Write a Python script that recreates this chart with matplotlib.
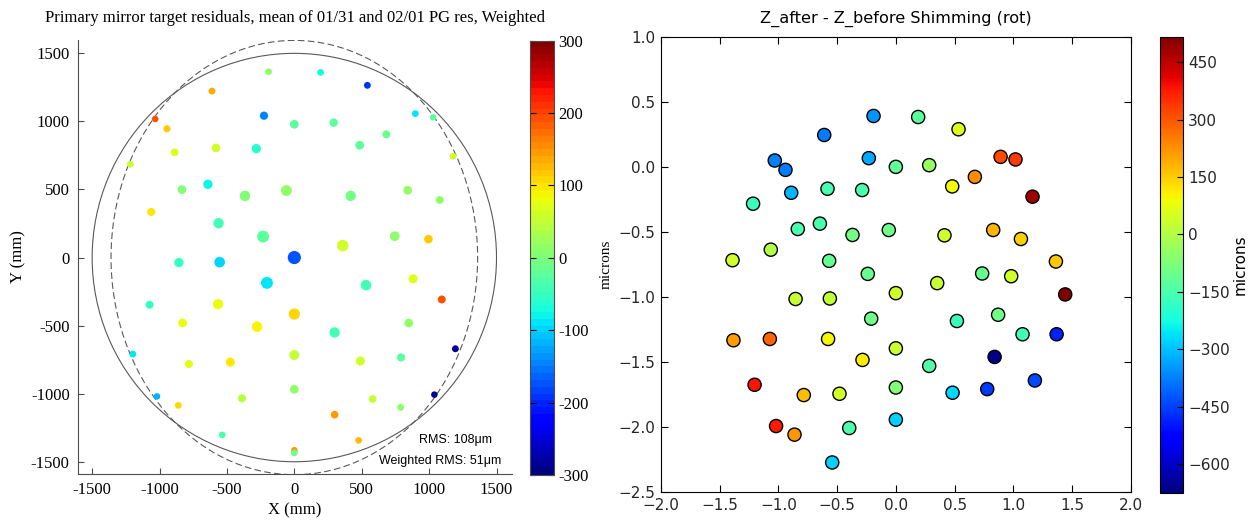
import numpy as np
import matplotlib
matplotlib.use('Agg')
import matplotlib.pyplot as plt
from matplotlib.patches import Ellipse, Circle

# ---- left panel: mirror target residuals (mm, microns) ----
left_x = [-191, -611, -1032, -945, -225, 0, -888, -581, -282, -1217, -834, -641, -366, -59,
          -1062, -562, -232, 0, -856, -554, 195, 542, 898, 1030, 292, 683, 485, 1178, 418, 841,
          1079, 359, 745, 995, -203, -1074, -566, 0, -829, -277, -1198, -782, -475, 0, 0,
          -1019, -861, -388, -535, 0, 0, 532, 881, 1094, 299, 849, 1195, 490, 792, 581, 789,
          1039, 299, 477]
left_y = [1365, 1223, 1018, 946, 1042, 979, 773, 805, 800, 685, 499, 538, 453, 492,
          335, 252, 154, 0, -37, -34, 1360, 1265, 1057, 1030, 991, 905, 825, 744, 453, 494,
          423, 88, 157, 135, -186, -347, -342, -415, -481, -508, -709, -782, -768, -716, -968,
          -1020, -1086, -1034, -1303, -1416, -1435, -203, -156, -308, -550, -481, -670, -760, -734, -1039, -1100,
          -1007, -1154, -1343]
left_res = [10, 140, 190, 115, -145, -25, 70, 65, -60, 55, 0, -80, 0, 15,
            100, -45, -25, -170, -50, -100, -70, -190, -90, -25, -25, -15, -25, 60, -5, 15,
            15, 65, 15, 115, -90, -55, 80, 105, 75, 85, -90, 70, 95, 50, 15,
            -120, 105, 40, -35, 145, -10, -45, 70, 190, -45, 15, -285, 65, -25, 55, 15,
            -285, 145, 130]
rms_text = ['RMS: 108\u03bcm', 'Weighted RMS: 51\u03bcm']

# ---- right panel: Z_after - Z_before ----
right_x = [-1.391, -1.065, -1.216, -1.031, -0.940, -0.891, -0.835, -0.647, -0.610, -0.582,
           -0.568, -0.369, -0.287, -0.230, -0.190, -0.239, 0.190, 0.534, 0.0, 0.284,
           0.892, 1.019, 0.673, 0.480, 1.164, -0.060, 0.414, 0.829, 1.065, 1.363,
           0.352, 0.0, 0.735, 0.982, 1.442, -0.210, 0.520, 0.871, 1.079, 1.369,
           -0.284, 0.0, 0.284, 0.841, 0.0, 0.483, 0.778, 1.184, 0.0, -0.854,
           -0.562, -1.383, -1.073, -0.577, -1.203, -0.784, -0.480, -1.020, -0.863, -0.397,
           -0.542]
right_y = [-0.717, -0.636, -0.283, 0.049, -0.023, -0.199, -0.477, -0.436, 0.245, -0.168,
           -0.722, -0.523, -0.178, 0.067, 0.391, -0.822, 0.383, 0.289, 0.0, 0.013,
           0.077, 0.057, -0.077, -0.150, -0.229, -0.485, -0.526, -0.485, -0.554, -0.727,
           -0.893, -0.970, -0.819, -0.840, -0.980, -1.166, -1.184, -1.136, -1.286, -1.286,
           -1.483, -1.394, -1.529, -1.460, -1.695, -1.735, -1.707, -1.641, -1.942, -1.015,
           -1.011, -1.332, -1.322, -1.322, -1.674, -1.753, -1.743, -1.991, -2.057, -2.006,
           -2.271]
right_dz = [40, 0, -175, -375, -380, -315, -150, -150, -380, -155,
            -115, -90, -150, -330, -350, -110, -130, 65, -120, -40,
            315, 335, 230, 90, 480, -100, 40, 180, 145, 155,
            30, 40, -110, 45, 517, -95, -175, -95, -165, -485,
            110, 30, -140, -665, -70, -270, -460, -440, -280, 30,
            20, 210, 280, 95, 385, 170, 45, 375, 215, -145,
            -280]

serif = ['Liberation Serif', 'DejaVu Serif']
sans = ['DejaVu Sans']
plt.rcParams['font.family'] = sans

W, H = 1253, 527
fig = plt.figure(figsize=(W / 100, H / 100), dpi=100)


def box(x0, y0, x1, y1):
    return [x0 / W, 1 - y1 / H, (x1 - x0) / W, (y1 - y0) / H]


def minus_fmt(v, pos):
    return ('%.1f' % v).replace('-', '\u2212')


# left
ax1 = fig.add_axes(box(78, 40, 512, 474))
r = np.hypot(left_x, left_y)
d = np.clip(13.2 - 4.6 * r / 1000, 6.0, None)
cmap1 = plt.get_cmap('jet', 64)
sc1 = ax1.scatter(left_x, left_y, c=left_res, s=(d * 0.72) ** 2, cmap=cmap1,
                  vmin=-300, vmax=300, edgecolors='none', zorder=3)
ax1.add_patch(Circle((0, 0), 1500, fill=False, ec='0.35', lw=0.8))
ax1.add_patch(Ellipse((0, 0), 2 * 1360, 2 * 1595, fill=False, ec='0.35', lw=0.8, ls=(0, (6, 3))))
ax1.set_xlim(-1605, 1615)
ax1.set_ylim(-1590, 1598)
ticks = np.arange(-1500, 1501, 500)
ax1.set_xticks(ticks)
ax1.set_xticklabels([str(t) for t in ticks], family=serif, fontsize=12)
ax1.set_yticks(ticks)
ax1.set_yticklabels([str(t) for t in ticks], family=serif, fontsize=12)
ax1.spines['top'].set_visible(False)
ax1.spines['right'].set_visible(False)
ax1.tick_params(direction='in', length=4, color='0.3', pad=6)
for s in ax1.spines.values():
    s.set_color('0.3')
ax1.set_xlabel('X (mm)', family=serif, fontsize=12, labelpad=3)
ax1.set_ylabel('Y (mm)', family=serif, fontsize=12, labelpad=3)
ax1.set_title('Primary mirror target residuals, mean of 01/31 and 02/01 PG res, Weighted',
              family=serif, fontsize=12, pad=13)
ax1.text(0.953, 0.078, rms_text[0], transform=ax1.transAxes, ha='right', va='center',
         family=['Liberation Sans', 'DejaVu Sans'], fontsize=9)
ax1.text(0.976, 0.031, rms_text[1], transform=ax1.transAxes, ha='right', va='center',
         family=['Liberation Sans', 'DejaVu Sans'], fontsize=9)

cax1 = fig.add_axes(box(530, 40.7, 554, 475))
cb1 = fig.colorbar(sc1, cax=cax1)
cb1.set_ticks(np.arange(-300, 301, 100))
cb1.set_ticklabels([str(t) for t in range(-300, 301, 100)])
cb1.ax.tick_params(direction='in', length=4, left=True, right=True, labelsize=12, pad=3)
for lab in cb1.ax.get_yticklabels():
    lab.set_family(serif)
cb1.outline.set_edgecolor('0.3')

# right
ax2 = fig.add_axes(box(661, 36.7, 1130.7, 492.3))
sc2 = ax2.scatter(right_x, right_y, c=right_dz, cmap='jet', vmin=-675, vmax=517,
                  s=90, edgecolors='black', linewidths=1.0, zorder=3)
ax2.set_xlim(-2.0, 2.0)
ax2.set_ylim(-2.5, 1.0)
ax2.set_xticks(np.arange(-2.0, 2.01, 0.5))
ax2.set_yticks(np.arange(-2.5, 1.01, 0.5))
ax2.xaxis.set_major_formatter(plt.FuncFormatter(minus_fmt))
ax2.yaxis.set_major_formatter(plt.FuncFormatter(minus_fmt))
ax2.tick_params(direction='in', length=5, top=True, right=True, labelsize=11, pad=4,
                labelcolor='0.15')
ax2.set_title('Z_after - Z_before Shimming (rot)', fontsize=11.6, pad=10)
ax2.set_ylabel('microns', family=serif, fontsize=11, labelpad=4)

cax2 = fig.add_axes(box(1160, 36.7, 1183.3, 492.7))
cb2 = fig.colorbar(sc2, cax=cax2)
cb2.set_ticks(np.arange(-600, 451, 150))
cb2.ax.tick_params(direction='in', length=4, labelsize=11, labelcolor='0.15')
cb2.set_label('microns', fontsize=11, labelpad=2)

fig.savefig('out.png', dpi=100)
